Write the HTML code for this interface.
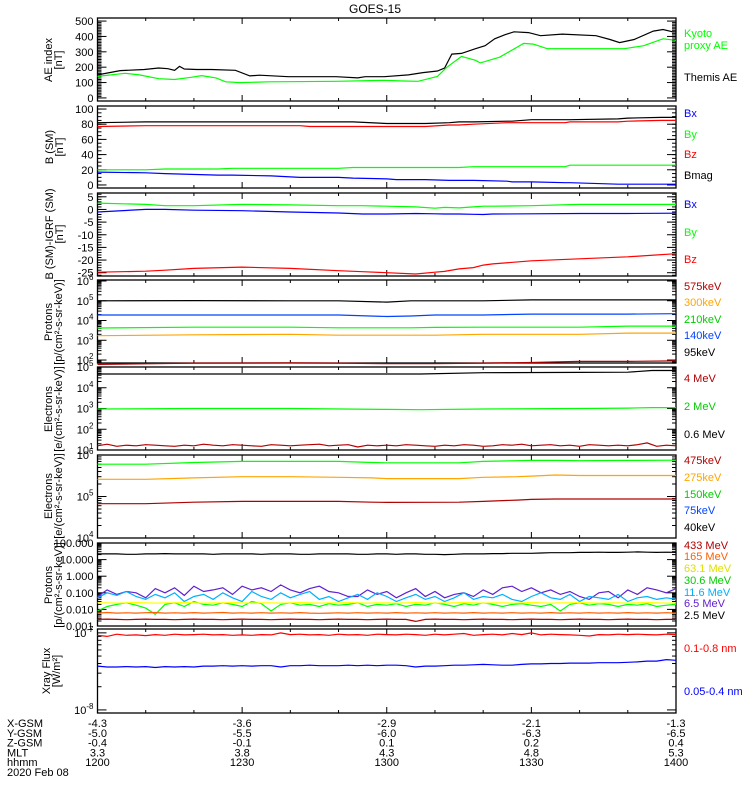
<!DOCTYPE html>
<html><head><meta charset="utf-8"><style>
html,body{margin:0;padding:0;background:#fff;}
svg{display:block;font-family:"Liberation Sans",sans-serif;}
</style></head><body>
<svg id="c" width="750" height="800" viewBox="0 0 750 800"></svg>
<script>
// ---------- data ----------
const aeBlackT=[0,4.7,9.7,12.7,14.6,16,17,18,20.6,23.6,28.6,31.6,33.6,39.6,49.5,54,55.5,59.5,64.5,67.5,70.5,72,73.5,75.5,78.4,80.4,82.4,84.4,86.4,89.4,91.9,96.4,103.4,106.3,108.3,111.3,115.3,117.3,119.3,120];
const aeBlackV=[150,178,185,195,190,180,205,188,185,185,180,143,148,138,138,130,138,138,150,165,175,195,285,290,320,340,385,410,430,425,405,415,405,380,360,380,435,445,430,430];
const aeGreenT=[0,5.7,8.7,12.7,16,19.6,21.6,24.6,26.6,29.6,35.6,49.5,59.5,63.5,66.5,70.5,72.5,75.5,78.4,79.4,83.4,88.4,90.4,93.3,109.3,113.3,117.3,120];
const aeGreenV=[140,160,150,125,120,135,145,130,105,100,105,108,115,110,108,140,200,270,245,228,265,355,350,320,320,340,385,375];
const bT=[0,10,14,25,28,36,42,44,50,53,60,62,68,73,75,78,85,86,90,97,98,108,110,117,120];
const bMag=[82,83,83,83,83,83,83,83,83,83,81,81,81,82,83,83,84,84,86,86,86,87,88,89,89];
const bZ=[77,78,78,78,78,78,78,77,77,77,77,77,77,79,79,80,82,82,82,82,83,83,84,85,85];
const bY=[20,20,21,21,22,22,22,22,22,23,23,23,23,23,23,24,24,24,24,24,26,26,26,26,26];
const bX=[17,16,15,13,13,12,10,10,10,9,8,7,7,6,6,6,5,4,4,3,3,1,1,1,1];
const dT=[0,10,14,20,30,40,50,55,60,66,70,72,75,78,80,82,90,100,110,120];
const dY=[2.5,2,1.5,1.5,2,1.8,1.5,1.5,1.3,1,0.5,0.8,0.6,1,1.3,1.3,1.5,2,2,2];
const dX=[-1,0,0,-0.3,-0.5,-1,-1.4,-1.8,-1.8,-1.6,-1.7,-1.8,-1.8,-1.9,-2,-1.8,-1.7,-1.6,-1.6,-1.5];
const dZ=[-24.8,-24.4,-24,-23.3,-22.8,-23.3,-24.2,-24.6,-25,-25.5,-24.8,-24.5,-23.5,-23,-22,-21.5,-20.3,-19.5,-18.7,-17.5];
const pT=[0,20,40,50,60,65,70,80,90,100,110,120];
const p95=[1e5,1.02e5,1e5,1e5,0.85e5,1e5,1e5,1e5,1.1e5,1.1e5,1.1e5,1.1e5];
const p140=[1.9e4,1.9e4,1.9e4,1.9e4,1.6e4,1.7e4,1.9e4,1.9e4,2.1e4,2.1e4,2.1e4,2.2e4];
const p210=[4.2e3,4.6e3,4.6e3,4.3e3,4.3e3,4.3e3,4.5e3,4.6e3,4.6e3,4.6e3,5.2e3,5.2e3];
const p300=[1.7e3,1.9e3,2e3,1.8e3,1.8e3,1.8e3,1.8e3,2e3,2e3,2e3,2.3e3,2.3e3];
const p575=[60,70,72,70,65,65,65,70,75,85,85,90];
const eT=[0,20,40,60,67,80,100,110,115,120];
const e06=[4.6e4,4.6e4,4.6e4,4.6e4,4.6e4,5.3e4,5.5e4,5.6e4,6.8e4,6.8e4];
const e2=[950,1000,1000,900,880,950,1000,1050,1100,1100];
const nT=[0,2,4,6,8,10,12,14,16,18,20,22,24,26,28,30,32,34,36,38,40,42,44,46,48,50,52,54,56,58,60,62,64,66,68,70,72,74,76,78,80,82,84,86,88,90,92,94,96,98,100,102,104,106,108,110,112,114,116,118,120];
const e4=[16,19,15,17,16,18,17,16,15,17,16,19,17,16,18,17,16,15,18,17,16,17,18,19,16,17,18,14,17,16,17,16,18,17,16,15,17,16,18,17,15,16,18,17,19,16,17,18,16,17,15,18,17,16,17,16,18,22,15,17,16];
const eeT=[0,10,20,30,40,50,57,60,75,80,87,90,95,100,110,120];
const e40=[6e5,6e5,6.6e5,7e5,7e5,7e5,6.6e5,6.5e5,6.5e5,7e5,7.3e5,7.4e5,7.4e5,7.3e5,7.4e5,7.5e5];
const e75=[2.6e5,2.6e5,2.8e5,3e5,3e5,2.9e5,2.8e5,2.7e5,2.7e5,2.9e5,3e5,3.1e5,3.3e5,3.2e5,3.2e5,3.2e5];
const e150=[6.7e4,6.7e4,7.3e4,7.6e4,7.6e4,7.6e4,7.3e4,7.2e4,7.3e4,7.6e4,8.2e4,8.5e4,8.7e4,8.7e4,8.7e4,8.7e4];
const hp25=[22,22,22,21,21,22,22,23,22,22,22,22,21,22,22,22,22,21,22,22,22,21,21,22,22,22,22,21,21,22,22,21,22,22,21,21,20,21,22,22,22,23,23,24,24,24,25,26,26,26,27,27,28,27,27,28,29,28,27,28,27];
const hp65=[0.06,0.15,0.08,0.12,0.1,0.05,0.18,0.1,0.2,0.07,0.25,0.12,0.15,0.2,0.08,0.25,0.15,0.2,0.12,0.3,0.15,0.1,0.18,0.25,0.12,0.1,0.06,0.06,0.15,0.08,0.12,0.05,0.1,0.18,0.06,0.12,0.05,0.08,0.1,0.06,0.15,0.08,0.2,0.25,0.12,0.2,0.1,0.15,0.08,0.12,0.06,0.04,0.1,0.12,0.05,0.15,0.08,0.2,0.15,0.1,0.18];
const hp116=[0.05,0.1,0.07,0.12,0.06,0.04,0.08,0.05,0.1,0.03,0.06,0.08,0.04,0.1,0.05,0.03,0.12,0.06,0.04,0.1,0.05,0.08,0.12,0.04,0.06,0.03,0.05,0.08,0.04,0.1,0.06,0.03,0.05,0.08,0.04,0.06,0.03,0.05,0.1,0.04,0.06,0.05,0.08,0.04,0.03,0.06,0.1,0.05,0.04,0.08,0.03,0.06,0.05,0.04,0.08,0.03,0.05,0.06,0.04,0.05,0.04];
const hp306=[0.008,0.015,0.02,0.025,0.018,0.012,0.005,0.02,0.025,0.015,0.03,0.02,0.018,0.025,0.02,0.015,0.03,0.022,0.008,0.02,0.025,0.018,0.02,0.015,0.022,0.018,0.02,0.025,0.015,0.02,0.018,0.022,0.015,0.02,0.018,0.025,0.02,0.015,0.022,0.018,0.025,0.02,0.015,0.02,0.022,0.018,0.015,0.02,0.008,0.02,0.025,0.018,0.022,0.02,0.015,0.02,0.018,0.022,0.015,0.018,0.02];
const hp631=[0.025,0.025,0.024,0.025,0.026,0.025,0.024,0.025,0.025,0.026,0.025,0.024,0.025,0.025,0.026,0.025,0.024,0.025,0.025,0.024,0.025,0.026,0.025,0.024,0.025,0.025,0.026,0.025,0.024,0.025,0.025,0.024,0.025,0.026,0.025,0.024,0.025,0.025,0.026,0.025,0.024,0.025,0.025,0.024,0.025,0.026,0.025,0.024,0.025,0.025,0.026,0.025,0.024,0.025,0.025,0.024,0.025,0.026,0.025,0.024,0.025];
const hp165=[0.006,0.0065,0.006,0.0062,0.006,0.0063,0.0065,0.006,0.0062,0.006,0.0064,0.006,0.0062,0.0065,0.006,0.0062,0.006,0.0063,0.006,0.0062,0.006,0.0064,0.006,0.0058,0.006,0.0062,0.006,0.0063,0.006,0.0062,0.006,0.0064,0.006,0.0062,0.006,0.0063,0.006,0.0062,0.006,0.0064,0.006,0.0062,0.006,0.0063,0.006,0.0062,0.006,0.0064,0.006,0.0062,0.006,0.0063,0.006,0.0062,0.006,0.0064,0.006,0.0062,0.006,0.0063,0.006];
const hp433=[0.0025,0.0026,0.0025,0.0024,0.0025,0.0026,0.0025,0.0025,0.0024,0.0025,0.0026,0.0025,0.0025,0.0024,0.0025,0.0026,0.0025,0.0025,0.0024,0.0025,0.0026,0.0025,0.0025,0.0024,0.0025,0.0026,0.0025,0.0025,0.0024,0.0025,0.0026,0.0025,0.0025,0.0019,0.0025,0.0026,0.0025,0.0025,0.0024,0.0025,0.0026,0.0025,0.0025,0.0024,0.0025,0.0026,0.0025,0.0025,0.0024,0.0025,0.0026,0.0025,0.0025,0.0024,0.0025,0.0026,0.0025,0.0025,0.0024,0.0025,0.0025];
const xLong=[9.3e-8,9e-8,9.6e-8,9.3e-8,9.4e-8,9.2e-8,9.5e-8,9.3e-8,9.6e-8,9.4e-8,9.5e-8,9.6e-8,9.4e-8,9.5e-8,9.3e-8,9.4e-8,9.3e-8,9.5e-8,9.4e-8,1e-7,9.5e-8,9.6e-8,9.4e-8,9.5e-8,9.3e-8,9.6e-8,9.4e-8,9.5e-8,9.3e-8,9.6e-8,9.5e-8,9.4e-8,9.6e-8,9.5e-8,9.3e-8,9.6e-8,9.4e-8,9.6e-8,9.8e-8,9.3e-8,9.5e-8,9.6e-8,9.4e-8,9.8e-8,9.5e-8,1e-7,9.4e-8,9.6e-8,9.5e-8,9.4e-8,9.3e-8,9.1e-8,9.5e-8,9.4e-8,9.6e-8,9.5e-8,9.6e-8,9.5e-8,9.4e-8,9.6e-8,9.5e-8];
const xShort=[3.7e-8,3.6e-8,3.6e-8,3.65e-8,3.6e-8,3.65e-8,3.55e-8,3.65e-8,3.6e-8,3.65e-8,3.6e-8,3.7e-8,3.7e-8,3.75e-8,3.7e-8,3.75e-8,3.7e-8,3.75e-8,3.75e-8,3.6e-8,3.75e-8,3.75e-8,3.8e-8,3.75e-8,3.75e-8,3.75e-8,3.8e-8,3.75e-8,3.8e-8,3.75e-8,3.8e-8,3.8e-8,3.75e-8,3.6e-8,3.7e-8,3.7e-8,3.75e-8,3.8e-8,3.8e-8,3.85e-8,3.9e-8,3.85e-8,3.8e-8,3.8e-8,3.9e-8,3.95e-8,3.95e-8,4e-8,4e-8,4.05e-8,4.05e-8,4.05e-8,4.1e-8,4.1e-8,4.1e-8,4.15e-8,4.2e-8,4.3e-8,4.3e-8,4.5e-8,4.4e-8];
const xTickT=[0,30,60,90,120];
const xTickLbl=["1200","1230","1300","1330","1400"];
const rowNames=["X-GSM","Y-GSM","Z-GSM","MLT","hhmm"];
const xgsm=["-4.3","-3.6","-2.9","-2.1","-1.3"];
const ygsm=["-5.0","-5.5","-6.0","-6.3","-6.5"];
const zgsm=["-0.4","-0.1","0.1","0.2","0.4"];
const mlt=["3.3","3.8","4.3","4.8","5.3"];

// ---------- drawing ----------
const svg=document.getElementById('c');
const NS='http://www.w3.org/2000/svg';
const X0=97.5,X1=676;
const xs=t=>X0+(X1-X0)*t/120;
function el(tag,attrs,parent){const e=document.createElementNS(NS,tag);for(const k in attrs)e.setAttribute(k,attrs[k]);(parent||svg).appendChild(e);return e;}
function txt(s,x,y,opt,name){const e=el('text',Object.assign({x:x,y:y,'font-size':11,fill:'#000'},opt||{}));e.textContent=s;

return e;}
function panel(name,top,bot,dom,log){
  const g=el('g',{});
  
  
  const f=v=>{const u=log?Math.log10(v):v;return bot-(bot-top)*(u-dom[0])/(dom[1]-dom[0]);};
  const r=el('rect',{x:X0,y:top,width:X1-X0,height:bot-top,fill:'none',stroke:'#000','stroke-width':1.3},g);
  
  
  for(let t=0;t<=120;t+=10){const L=t%30===0?6:3;const x=xs(t);
    el('line',{x1:x,x2:x,y1:top,y2:top+L,stroke:'#000'},g);el('line',{x1:x,x2:x,y1:bot,y2:bot-L,stroke:'#000'},g);}
  return {g,f,top,bot};
}
function yTicks(p,majors,minors,labels){
  minors.forEach(v=>{const y=p.f(v);if(y<p.top-0.5||y>p.bot+0.5)return;el('line',{x1:X0,x2:X0+4,y1:y,y2:y,stroke:'#000'},p.g);el('line',{x1:X1,x2:X1-4,y1:y,y2:y,stroke:'#000'},p.g);});
  majors.forEach((v,i)=>{const y=p.f(v);el('line',{x1:X0,x2:X0+9,y1:y,y2:y,stroke:'#000'},p.g);el('line',{x1:X1,x2:X1-9,y1:y,y2:y,stroke:'#000'},p.g);
    const t=labels[i];const e=txt('',X0-4,y+4,{'text-anchor':'end'},'y-tick-label');
    if(Array.isArray(t)){e.textContent=t[0];const s=el('tspan',{dy:-5,'font-size':8},e);s.textContent=t[1];}else e.textContent=t;});
}
function logMinors(a,b){const r=[];for(let d=a;d<b;d++)for(let k=2;k<=9;k++)r.push(k*Math.pow(10,d));return r;}
function range(a,b,s){const r=[];for(let v=a;v<=b+1e-9;v+=s)r.push(+v.toFixed(6));return r;}
function line(p,T,V,color,name){
  const pts=T.map((t,i)=>xs(t).toFixed(1)+','+p.f(V[i]).toFixed(1)).join(' ');
  const e=el('polyline',{points:pts,fill:'none',stroke:color,'stroke-width':1.2},p.g);
  
  
}
function ytitle(lines,cx,cy){lines.forEach((s,i)=>{const x=cx+i*10;txt(s,x,cy,{'text-anchor':'middle',transform:'rotate(-90 '+x+' '+cy+')'},'y-axis-title');});}
function leg(s,y,c){txt(s,684,y,{fill:c},'legend-entry');}

txt('GOES-15',375,13,{'text-anchor':'middle','font-size':12},'chart-title');

// AE
let p=panel('ae-index',18,101,[-20,520],false);
yTicks(p,range(0,500,100),range(0,500,10),['0','100','200','300','400','500']);
line(p,aeBlackT,aeBlackV,'#000','themis-ae-line');line(p,aeGreenT,aeGreenV,'#00ff00','kyoto-ae-line');
ytitle(['AE index','[nT]'],52,60);
leg('Kyoto',37,'#00ff00');leg('proxy AE',49,'#00ff00');leg('Themis AE',81,'#000');

// B SM
p=panel('b-sm',106,188,[-4,104],false);
yTicks(p,range(0,100,20),range(0,100,5),['0','20','40','60','80','100']);
line(p,bT,bMag,'#000','bmag-line');line(p,bT,bZ,'#ff0000','bz-line');line(p,bT,bY,'#00ff00','by-line');line(p,bT,bX,'#0000ff','bx-line');
ytitle(['B (SM)','[nT]'],53,147);
leg('Bx',117,'#0000ff');leg('By',138,'#00ff00');leg('Bz',158,'#ff0000');leg('Bmag',179,'#000');

// B-IGRF
p=panel('b-igrf',193,276,[-26.3,6.5],false);
yTicks(p,range(-25,5,5),range(-26,6,1),['-25','-20','-15','-10','-5','0','5']);
line(p,dT,dY,'#00ff00','dby-line');line(p,dT,dX,'#0000ff','dbx-line');line(p,dT,dZ,'#ff0000','dbz-line');
ytitle(['B (SM)-IGRF (SM)','[nT]'],53,234);
leg('Bx',208,'#0000ff');leg('By',236,'#00ff00');leg('Bz',263,'#ff0000');

// Protons MAGED
p=panel('protons-maged',280,363,[1.85,6.05],true);
yTicks(p,[1e2,1e3,1e4,1e5,1e6],logMinors(1,6),[['10','2'],['10','3'],['10','4'],['10','5'],['10','6']]);
line(p,pT,p95,'#000','p95-line');line(p,pT,p140,'#0044ff','p140-line');line(p,pT,p210,'#00ff00','p210-line');line(p,pT,p300,'#ffa500','p300-line');line(p,pT,p575,'#b00000','p575-line');
ytitle(['Protons','[p/(cm²-s-sr-keV)]'],52,322);
leg('575keV',290,'#b00000');leg('300keV',306,'#ffa500');leg('210keV',323,'#00cc00');leg('140keV',339,'#0044ff');leg('95keV',356,'#000');

// Electrons EPEAD
p=panel('electrons-mev',367,450,[1,5],true);
yTicks(p,[1e1,1e2,1e3,1e4,1e5],logMinors(1,5),[['10','1'],['10','2'],['10','3'],['10','4'],['10','5']]);
line(p,eT,e06,'#000','e06-line');line(p,eT,e2,'#00ff00','e2-line');line(p,nT,e4,'#b00000','e4-line');
ytitle(['Electrons','[e/(cm²-s-sr-keV)]'],52,409);
leg('4 MeV',382,'#b00000');leg('2 MeV',410,'#00cc00');leg('0.6 MeV',438,'#000');

// Electrons MAGED
p=panel('electrons-kev',455,538,[4,6],true);
yTicks(p,[1e4,1e5,1e6],logMinors(4,6),[['10','4'],['10','5'],['10','6']]);
line(p,eeT,e40,'#00ff00','e40-line');line(p,eeT,e75,'#ffa500','e75-line');line(p,eeT,e150,'#b00000','e150-line');
ytitle(['Electrons','[e/(cm²-s-sr-keV)]'],52,496);
leg('475keV',464,'#b00000');leg('275keV',481,'#ffa500');leg('150keV',498,'#00cc00');leg('75keV',514,'#0044ff');leg('40keV',531,'#000');

// Protons HEPAD
p=panel('protons-mev',543,626,[-3,2],true);
yTicks(p,[0.001,0.01,0.1,1,10,100],logMinors(-3,2),['0.001','0.010','0.100','1.000','10.000','100.000']);
line(p,nT,hp65,'#6020d0','p6.5-line');line(p,nT,hp116,'#00b0ff','p11.6-line');line(p,nT,hp306,'#00ff00','p30.6-line');line(p,nT,hp631,'#ffff00','p63.1-line');line(p,nT,hp165,'#ff6000','p165-line');line(p,nT,hp433,'#b00000','p433-line');line(p,nT,hp25,'#000','p2.5-line');
ytitle(['Protons','[p/(cm²-s-sr-keV)]'],52,585);
leg('433 MeV',549,'#b00000');leg('165 MeV',560,'#ff6000');leg('63.1 MeV',572,'#e0e000');leg('30.6 MeV',584,'#00cc00');leg('11.6 MeV',596,'#00b0ff');leg('6.5 MeV',607,'#6020d0');leg('2.5 MeV',619,'#000');

// X-ray
p=panel('xray-flux',629,713,[-8.04,-6.95],true);
yTicks(p,[1e-8,1e-7],logMinors(-8,-7),[['10','-8'],['10','-7']]);
line(p,nT,xLong,'#ff0000','xray-long-line');line(p,nT,xShort,'#0000ff','xray-short-line');
ytitle(['Xray Flux','[W/m²]'],50,671);
leg('0.1-0.8 nm',652,'#ff0000');leg('0.05-0.4 nm',695,'#0000ff');

// bottom annotation rows
const rows=[xgsm,ygsm,zgsm,mlt,xTickLbl];
rows.forEach((r,i)=>{const y=727+i*9.8;txt(rowNames[i],7,y,{},'row-label');
  r.forEach((v,j)=>txt(v,xs(xTickT[j]),y,{'text-anchor':'middle'},'x-tick-label'));});
txt('2020 Feb 08',7,776,{},'date-label');
</script>
</body></html>
